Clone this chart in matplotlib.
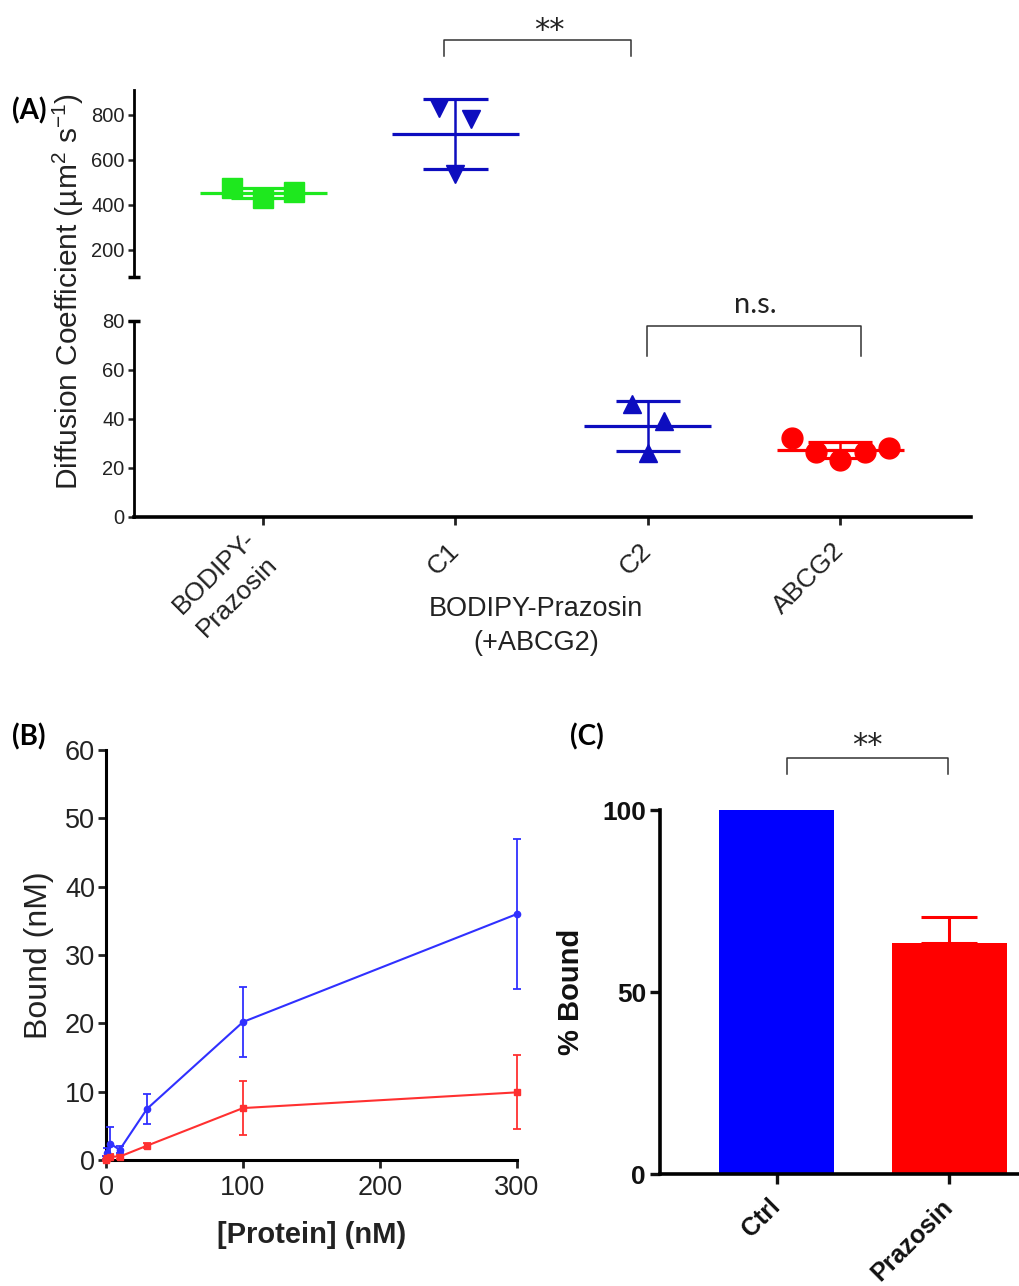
import numpy as np
import matplotlib
matplotlib.use("Agg")
from matplotlib import pyplot as plt

plt.rcParams["font.family"] = ["Liberation Sans", "DejaVu Sans"]
plt.rcParams["mathtext.fontset"] = "custom"
plt.rcParams["mathtext.rm"] = "Liberation Sans"
plt.rcParams["mathtext.it"] = "Liberation Sans:italic"
plt.rcParams["mathtext.default"] = "regular"

# ---- data ----
# (A) diffusion coefficients, um^2/s
groups_a = ["BODIPY-\nPrazosin", "C1", "C2", "ABCG2"]
bodipy_vals = [475, 431, 458]
c1_vals = [829, 780, 536]
c2_vals = [46, 39, 26]
abcg2_vals = [32, 26.5, 23, 26.5, 28]

# (B) binding titration
protein_nm = [0, 1, 3, 10, 30, 100, 300]
bound_ctrl = [0.3, 1.0, 2.4, 1.5, 7.5, 20.2, 36.0]
bound_ctrl_err = [0.3, 0.8, 2.4, 0.5, 2.2, 5.1, 11.0]
bound_praz = [0.0, 0.3, 0.5, 0.5, 2.1, 7.6, 9.9]
bound_praz_err = [0.2, 0.3, 0.4, 0.3, 0.4, 4.0, 5.4]

# (C) percent bound
bar_labels = ["Ctrl", "Prazosin"]
pct_bound = [100, 63.5]
pct_bound_err = [0, 7.1]

# ---- layout / style ----
W, H = 1019, 1286
fig = plt.figure(figsize=(W / 100, H / 100), dpi=100)

TXT = "#222222"
GREEN = "#1ee81e"
DBLUE = "#0d0dbf"
RED = "#ff0000"
BLUE_B = "#3030ff"
RED_B = "#ff3030"
ANNOT_FONT = ["Lato", "DejaVu Sans"]


def px_axes(left, top, right, bottom):
    return fig.add_axes([left / W, 1 - bottom / H, (right - left) / W, (bottom - top) / H])


def dot_group(ax, xc, vals, offsets, marker, color, ms):
    vals = np.asarray(vals, float)
    m, sd = vals.mean(), vals.std(ddof=1)
    ax.plot(xc + np.asarray(offsets), vals, ls="none", marker=marker, ms=ms,
            color=color, mec=color, clip_on=False, zorder=3)
    ax.hlines(m, xc - 0.33, xc + 0.33, color=color, lw=2.3, zorder=4)
    ax.hlines([m - sd, m + sd], xc - 0.167, xc + 0.167, color=color, lw=2.3, zorder=4)
    ax.vlines(xc, m - sd, m + sd, color=color, lw=1.8, zorder=4)


def stars(ax, x, y):
    ax.text(x, y, "**", ha="center", va="baseline", fontsize=22,
            family="DejaVu Sans", color=TXT, clip_on=False)


# ---------------- (A) ----------------
xlim_a = (-0.669, 3.68)
ax_hi = px_axes(134.4, 90, 971, 277)
ax_lo = px_axes(134.4, 320.7, 971, 516.7)

for ax in (ax_hi, ax_lo):
    ax.set_xlim(*xlim_a)
    for s in ("top", "right"):
        ax.spines[s].set_visible(False)
    ax.spines["left"].set_linewidth(2)
    ax.tick_params(axis="y", length=4, width=1.8, pad=3, labelsize=14.5, colors=TXT)
    ax.patch.set_alpha(0)

ax_hi.spines["bottom"].set_visible(False)
ax_hi.tick_params(axis="x", bottom=False, labelbottom=False)
ax_hi.set_ylim(80, 910)
ax_hi.set_yticks([200, 400, 600, 800])

ax_lo.set_ylim(0, 80)
ax_lo.set_yticks([0, 20, 40, 60, 80])
ax_lo.spines["bottom"].set_linewidth(2.6)
ax_lo.set_xticks(range(len(groups_a)))
ax_lo.set_xticklabels(groups_a, rotation=45, ha="right", va="center",
                      rotation_mode="anchor", multialignment="center",
                      linespacing=1.5)
ax_lo.tick_params(axis="x", length=6, width=2, pad=16, labelsize=19, colors=TXT)

# axis break caps
ax_hi.plot([xlim_a[0]], [80], marker="_", ms=9, mew=2.5, color="k", clip_on=False)
ax_lo.plot([xlim_a[0]], [80], marker="_", ms=9, mew=2.5, color="k", clip_on=False)

dot_group(ax_hi, 0, bodipy_vals, [-0.16, 0, 0.16], "s", GREEN, 14)
dot_group(ax_hi, 1, c1_vals, [-0.083, 0.083, 0], "v", DBLUE, 12.5)
dot_group(ax_lo, 2, c2_vals, [-0.083, 0.083, 0], "^", DBLUE, 13)
dot_group(ax_lo, 3, abcg2_vals, [-0.25, -0.128, 0, 0.128, 0.256], "o", RED, 15)

fig.text(68 / W, 1 - 291 / H, "Diffusion Coefficient (µm$^{2}$ s$^{-1}$)",
         rotation=90, ha="center", va="center", fontsize=21.5, color=TXT)
fig.text(536 / W, 1 - 596 / H, "BODIPY-Prazosin\n(+ABCG2)", ha="center", va="top",
         fontsize=19.5, color=TXT, linespacing=1.4)

# significance brackets
ax_hi.plot([0.943, 0.943, 1.911, 1.911], [1061, 1132, 1132, 1061],
           color="#333333", lw=1.1, clip_on=False)
stars(ax_hi, 1.49, 1138)
ax_lo.plot([1.995, 1.995, 3.11, 3.11], [65.6, 77.8, 77.8, 65.6],
           color="#333333", lw=1.1, clip_on=False)
ax_lo.text(2.56, 86.3, "n.s.", ha="center", va="center", fontsize=21,
           family=ANNOT_FONT, color=TXT)

# ---------------- (B) ----------------
ax_b = px_axes(106, 750, 517, 1160)
for vals, errs, col, mk in ((bound_ctrl, bound_ctrl_err, BLUE_B, "o"),
                            (bound_praz, bound_praz_err, RED_B, "s")):
    cont = ax_b.errorbar(protein_nm, vals, yerr=errs, color=col, marker=mk, ms=4.5,
                         lw=1.5, elinewidth=1.3, capsize=3, capthick=1.3, zorder=3)
    for art in cont.get_children():
        art.set_clip_on(False)
ax_b.set_xlim(0, 300)
ax_b.set_ylim(0, 60)
ax_b.set_xticks([0, 100, 200, 300])
ax_b.set_yticks([0, 10, 20, 30, 40, 50, 60])
for s in ("top", "right"):
    ax_b.spines[s].set_visible(False)
for s in ("left", "bottom"):
    ax_b.spines[s].set_linewidth(2.2)
ax_b.tick_params(length=6, width=2, labelsize=19.5, colors=TXT)
ax_b.tick_params(axis="x", pad=5)
ax_b.tick_params(axis="y", pad=2)
ax_b.set_xlabel("[Protein] (nM)", fontsize=21, fontweight="bold", color=TXT, labelpad=14)
ax_b.set_ylabel("Bound (nM)", fontsize=23, color=TXT, labelpad=8)

# ---------------- (C) ----------------
xlim_c = (-0.676, 1.676)
ax_c = px_axes(660, 810, 660 + (xlim_c[1] - xlim_c[0]) * 172.7, 1174)
xs = np.arange(len(bar_labels))
ax_c.bar(xs, pct_bound, width=0.666, color=["#0000ff", "#ff0000"], zorder=2)
for x, v, e, col in zip(xs, pct_bound, pct_bound_err, ["#0000ff", "#ff0000"]):
    if e > 0:
        ax_c.errorbar(x, v, yerr=[[0], [e]], color=col, lw=2.2, capsize=20,
                      capthick=2.2, zorder=1)
ax_c.set_xlim(*xlim_c)
ax_c.set_ylim(0, 100)
ax_c.set_yticks([0, 50, 100])
ax_c.set_xticks(xs)
ax_c.set_xticklabels(bar_labels, rotation=45, ha="right", va="center",
                     rotation_mode="anchor", fontweight="bold")
for lab in ax_c.get_yticklabels():
    lab.set_fontweight("bold")
for s in ("top", "right"):
    ax_c.spines[s].set_visible(False)
for s in ("left", "bottom"):
    ax_c.spines[s].set_linewidth(2.6)
ax_c.tick_params(length=7, width=2.4, labelsize=19, colors="#111111")
ax_c.tick_params(axis="x", labelsize=18, pad=14)
ax_c.tick_params(axis="y", pad=3)
fig.text(571 / W, 1 - 992 / H, "% Bound", rotation=90, ha="center", va="center",
         fontsize=21, fontweight="bold", color="#111111")

ax_c.plot([0.06, 0.06, 0.99, 0.99], [109.9, 114.3, 114.3, 109.9],
          color="#333333", lw=1.1, clip_on=False)
stars(ax_c, 0.525, 115.5)

# panel letters
for lbl, x, y in (("(A)", 29, 111), ("(B)", 29, 737), ("(C)", 587, 737)):
    fig.text(x / W, 1 - y / H, lbl, ha="center", va="center", fontsize=20,
             fontweight="bold", family=ANNOT_FONT, color="black")

fig.savefig("out.png", dpi=100)
